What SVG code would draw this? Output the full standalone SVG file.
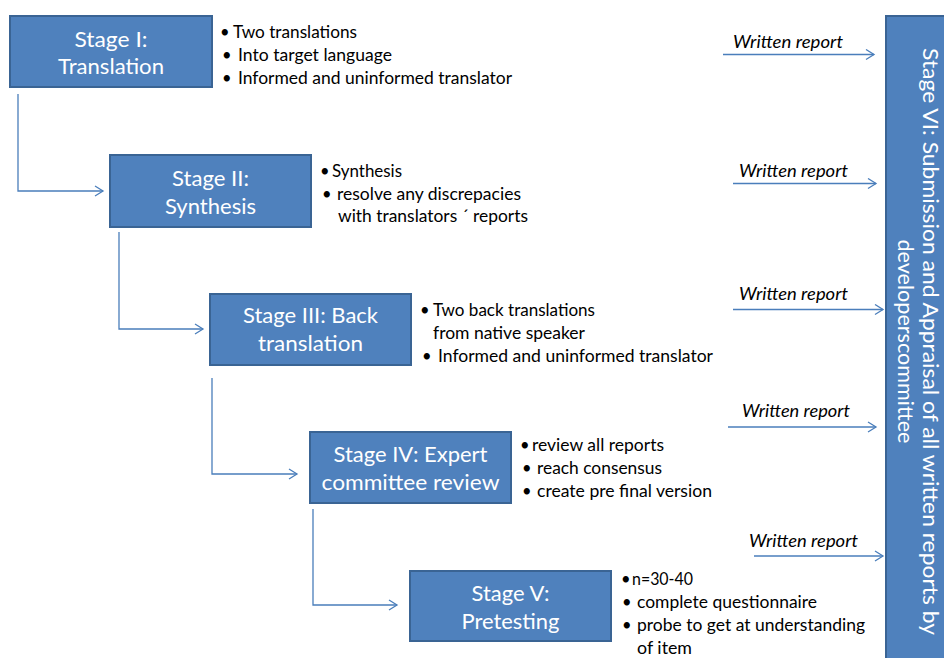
<svg xmlns="http://www.w3.org/2000/svg" width="944" height="658" viewBox="0 0 944 658">
<style>
.box{fill:#4F81BD;stroke:#3A6494;stroke-width:2}
.bt{font-family:Lato,"Open Sans","Liberation Sans",sans-serif;font-size:22px;fill:#fff;text-anchor:middle}
.vt{font-family:Lato,"Open Sans","Liberation Sans",sans-serif;font-size:21px;fill:#fff;text-anchor:middle}
.tx{font-family:Lato,"Open Sans","Liberation Sans",sans-serif;font-size:16.5px;fill:#000}
.wr{font-family:Lato,"Open Sans","Liberation Sans",sans-serif;font-size:16.5px;font-style:italic;fill:#000}
.cn{fill:none;stroke:#4A7EBB;stroke-width:1.3}
</style>
<defs>
<marker id="ah" markerUnits="userSpaceOnUse" markerWidth="12" markerHeight="14" refX="9" refY="6" orient="auto">
<path d="M1,1 L9,6 L1,11" fill="none" stroke="#4A7EBB" stroke-width="1.3"/>
</marker>
</defs>
<rect width="944" height="658" fill="#fff"/>

<g id="connectors">
<path class="cn" d="M18,94 V191 H103" marker-end="url(#ah)"/>
<path class="cn" d="M119,232 V329 H203" marker-end="url(#ah)"/>
<path class="cn" d="M212,378 V474 H297" marker-end="url(#ah)"/>
<path class="cn" d="M313,509 V605 H397" marker-end="url(#ah)"/>
<path class="cn" d="M723,54.5 H874" marker-end="url(#ah)"/>
<path class="cn" d="M733,183.5 H876" marker-end="url(#ah)"/>
<path class="cn" d="M733,309.5 H883" marker-end="url(#ah)"/>
<path class="cn" d="M728,427 H876" marker-end="url(#ah)"/>
<path class="cn" d="M754,556 H883" marker-end="url(#ah)"/>
<text class="wr" x="733" y="48" textLength="110" lengthAdjust="spacingAndGlyphs">Written report</text>
<text class="wr" x="739" y="177" textLength="109" lengthAdjust="spacingAndGlyphs">Written report</text>
<text class="wr" x="739" y="300" textLength="109" lengthAdjust="spacingAndGlyphs">Written report</text>
<text class="wr" x="742" y="417" textLength="108" lengthAdjust="spacingAndGlyphs">Written report</text>
<text class="wr" x="749" y="547" textLength="109" lengthAdjust="spacingAndGlyphs">Written report</text>
</g>

<g id="stage1">
<rect class="box" x="10" y="16" width="202" height="71"/>
<text class="bt" x="111" y="47" textLength="73" lengthAdjust="spacingAndGlyphs">Stage I:</text>
<text class="bt" x="111" y="74" textLength="106" lengthAdjust="spacingAndGlyphs">Translation</text>
<text class="tx" x="220" y="38">•</text>
<text class="tx" x="233" y="38" textLength="124" lengthAdjust="spacingAndGlyphs">Two translations</text>
<text class="tx" x="222" y="61">•</text>
<text class="tx" x="238" y="61" textLength="154" lengthAdjust="spacingAndGlyphs">Into target language</text>
<text class="tx" x="222" y="84">•</text>
<text class="tx" x="238" y="84" textLength="274" lengthAdjust="spacingAndGlyphs">Informed and uninformed translator</text>
</g>

<g id="stage2">
<rect class="box" x="110" y="155" width="201" height="72"/>
<text class="bt" x="210.5" y="186" textLength="77" lengthAdjust="spacingAndGlyphs">Stage II:</text>
<text class="bt" x="210.5" y="214" textLength="91" lengthAdjust="spacingAndGlyphs">Synthesis</text>
<text class="tx" x="320" y="177">•</text>
<text class="tx" x="332" y="177" textLength="70" lengthAdjust="spacingAndGlyphs">Synthesis</text>
<text class="tx" x="322" y="200">•</text>
<text class="tx" x="337" y="200" textLength="184" lengthAdjust="spacingAndGlyphs">resolve any discrepacies</text>
<text class="tx" x="338" y="222" textLength="190" lengthAdjust="spacingAndGlyphs">with translators ´ reports</text>
</g>

<g id="stage3">
<rect class="box" x="210" y="294" width="201" height="71"/>
<text class="bt" x="310.5" y="323" textLength="135" lengthAdjust="spacingAndGlyphs">Stage III: Back</text>
<text class="bt" x="310.5" y="351" textLength="105" lengthAdjust="spacingAndGlyphs">translation</text>
<text class="tx" x="420" y="316">•</text>
<text class="tx" x="433" y="316" textLength="162" lengthAdjust="spacingAndGlyphs">Two back translations</text>
<text class="tx" x="433" y="339" textLength="152" lengthAdjust="spacingAndGlyphs">from native speaker</text>
<text class="tx" x="422" y="362">•</text>
<text class="tx" x="438" y="362" textLength="275" lengthAdjust="spacingAndGlyphs">Informed and uninformed translator</text>
</g>

<g id="stage4">
<rect class="box" x="310" y="432" width="201" height="71"/>
<text class="bt" x="410.5" y="462" textLength="154" lengthAdjust="spacingAndGlyphs">Stage IV: Expert</text>
<text class="bt" x="410.5" y="490" textLength="178" lengthAdjust="spacingAndGlyphs">committee review</text>
<text class="tx" x="520" y="451">•</text>
<text class="tx" x="532" y="451" textLength="132" lengthAdjust="spacingAndGlyphs">review all reports</text>
<text class="tx" x="522" y="474">•</text>
<text class="tx" x="537" y="474" textLength="125" lengthAdjust="spacingAndGlyphs">reach consensus</text>
<text class="tx" x="522" y="497">•</text>
<text class="tx" x="537" y="497" textLength="175" lengthAdjust="spacingAndGlyphs">create pre final version</text>
</g>

<g id="stage5">
<rect class="box" x="410" y="571" width="201" height="70"/>
<text class="bt" x="510.5" y="601" textLength="78" lengthAdjust="spacingAndGlyphs">Stage V:</text>
<text class="bt" x="510.5" y="629" textLength="98" lengthAdjust="spacingAndGlyphs">Pretesting</text>
<text class="tx" x="621" y="585">•</text>
<text class="tx" x="632" y="585" textLength="61" lengthAdjust="spacingAndGlyphs">n=30-40</text>
<text class="tx" x="622" y="608">•</text>
<text class="tx" x="637" y="608" textLength="180" lengthAdjust="spacingAndGlyphs">complete questionnaire</text>
<text class="tx" x="622" y="631">•</text>
<text class="tx" x="637" y="631" textLength="228" lengthAdjust="spacingAndGlyphs">probe to get at understanding</text>
<text class="tx" x="637" y="654" textLength="55" lengthAdjust="spacingAndGlyphs">of item</text>
</g>

<g id="stage6">
<rect class="box" x="886" y="16" width="70" height="660"/>
<text class="vt" transform="translate(923,341.5) rotate(90)" textLength="587" lengthAdjust="spacingAndGlyphs">Stage VI: Submission and Appraisal of all written reports by</text>
<text class="vt" transform="translate(898,341.5) rotate(90)" textLength="204" lengthAdjust="spacingAndGlyphs">developerscommittee</text>
</g>
</svg>
